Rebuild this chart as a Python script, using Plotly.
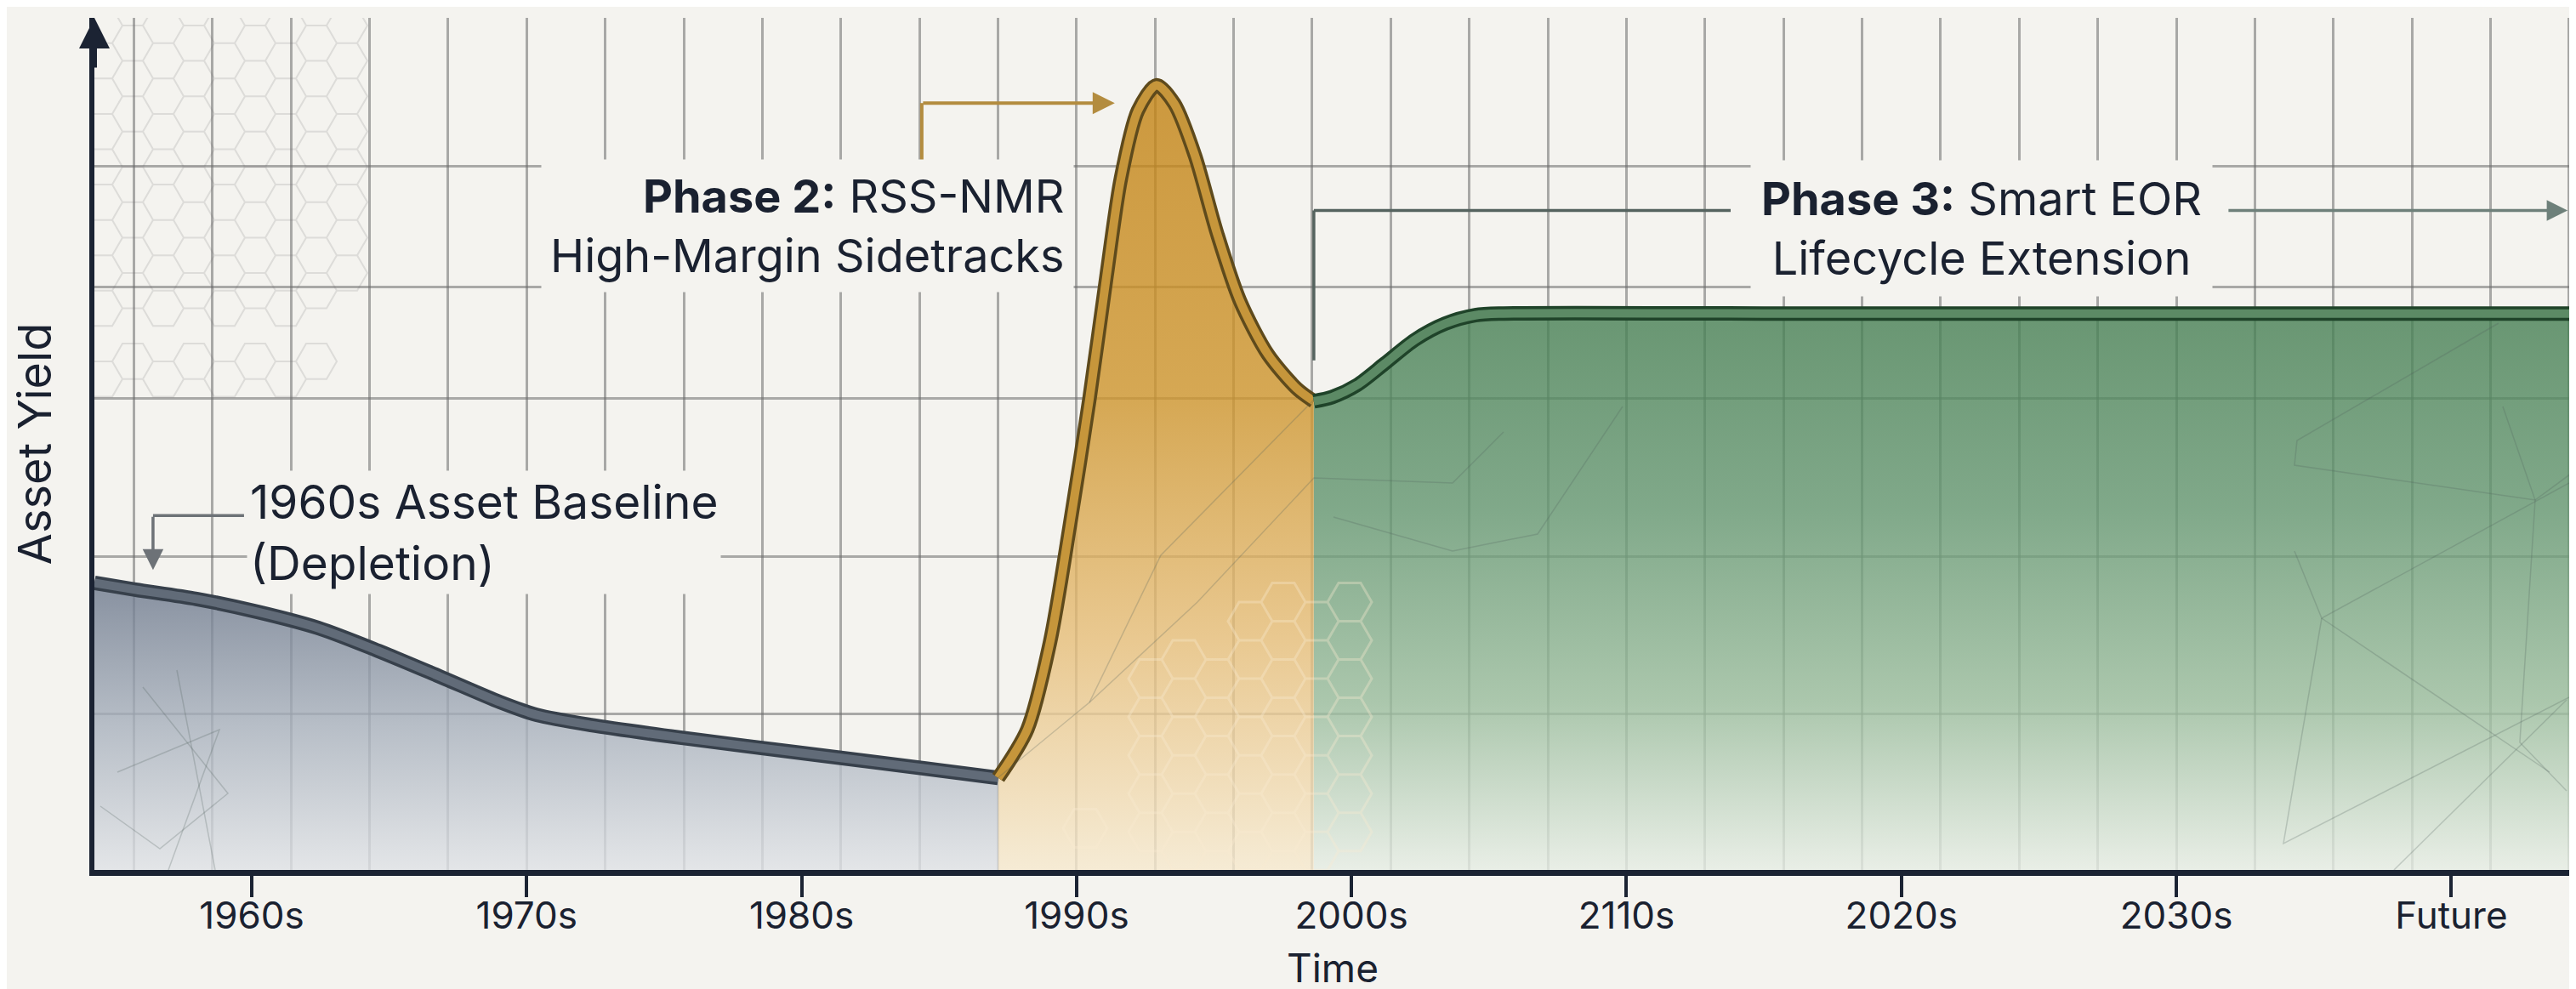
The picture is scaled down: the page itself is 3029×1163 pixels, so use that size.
import plotly.graph_objects as go
import math

# ---------------- DATA ----------------
categories = ["1960s", "1970s", "1980s", "1990s", "2000s", "2110s", "2020s", "2030s", "Future"]
cat_pos = list(range(len(categories)))

# Phase 1: 1960s asset baseline (depletion)
base_x = [-0.572, -0.424, -0.201, 0.019, 0.241, 0.461, 0.684, 0.903, 1.036, 1.234, 1.565, 2.007, 2.450, 2.715]
base_y = [33.7, 32.9, 31.8, 30.3, 28.4, 25.7, 22.7, 19.7, 18.2, 17.0, 15.5, 13.7, 11.9, 10.8]

# Phase 2: RSS-NMR high-margin sidetracks
phase2_x = [2.715, 2.821, 2.904, 2.976, 3.047, 3.109, 3.161, 3.223, 3.291, 3.356, 3.430, 3.511, 3.594, 3.696, 3.801, 3.863]
phase2_y = [10.8, 16.5, 26.8, 40.5, 55.3, 69.7, 81.1, 89.1, 92.1, 89.9, 83.9, 74.7, 66.8, 60.5, 56.5, 55.0]

# Phase 3: Smart EOR lifecycle extension
phase3_x = [3.863, 3.930, 4.020, 4.120, 4.230, 4.340, 4.450, 4.553, 5.5, 6.5, 7.5, 8.435]
phase3_y = [55.0, 55.5, 56.9, 59.4, 62.2, 64.1, 65.1, 65.3, 65.3, 65.3, 65.3, 65.3]

# horizontal grid levels (no labels in the original)
grid_y = [18.36, 36.73, 55.29, 68.46, 82.63, 99.95]

# ---------------- STYLE ----------------
BG = (244, 243, 239)
AX = "#1b2333"
TXT = "#1a2130"
FONT = "Inter, Liberation Sans, Arial, sans-serif"
X_RANGE = [-0.5722, 8.435]
Y_RANGE = [0, 100]
GRID = "rgba(105,105,105,0.55)"


def comp(hexcol, a=0.8):
    """colour that looks like hexcol once blended at alpha a over the background"""
    h = hexcol.lstrip("#")
    d = [int(h[i:i + 2], 16) for i in (0, 2, 4)]
    c = [max(0, min(255, round((d[k] - (1 - a) * BG[k]) / a))) for k in range(3)]
    return f"rgba({c[0]},{c[1]},{c[2]},{a})"


fig = go.Figure()

segments = [
    (base_x, base_y, [[0, comp("#e3e5e8")], [0.5, comp("#b7bec7")], [1, comp("#8791a0")]],
     "#37404b", "#616b78"),
    (phase2_x, phase2_y, [[0, comp("#f6ebd5")], [0.3, comp("#e9c88f")], [0.6, comp("#d6a854")], [1, comp("#cc993e")]],
     "#5e4a1c", "#c6963b"),
    (phase3_x, phase3_y, [[0, comp("#e9eee6")], [0.3, comp("#abc7ad")], [0.65, comp("#80a989")], [1, comp("#699672")]],
     "#1f4329", "#5c8a65"),
]

for xs, ys, cs, _, _ in segments:
    fig.add_trace(go.Scatter(
        x=xs, y=ys, mode="lines", line=dict(width=0, shape="spline", smoothing=0.8),
        fill="tozeroy",
        fillgradient=dict(type="vertical", colorscale=cs, start=0, stop=max(ys)),
        hoverinfo="skip", showlegend=False))

for xs, ys, _, outer, inner in segments:
    fig.add_trace(go.Scatter(x=xs, y=ys, mode="lines",
                             line=dict(color=outer, width=17, shape="spline", smoothing=0.8),
                             hoverinfo="skip", showlegend=False))
    fig.add_trace(go.Scatter(x=xs, y=ys, mode="lines",
                             line=dict(color=inner, width=10, shape="spline", smoothing=0.8),
                             hoverinfo="skip", showlegend=False))

# invisible trace so the labelled overlay axis exists
fig.add_trace(go.Scatter(x=cat_pos, y=[0] * len(cat_pos), xaxis="x2", mode="markers",
                         marker=dict(opacity=0), hoverinfo="skip", showlegend=False))

# ---------------- DECORATION (hexagon texture, faint survey lines) ----------------
PXU = 323.3           # px per category unit
PYU = 10.02           # px per y unit


def px2d(px, py):
    return (px - 288) / PXU, (1015 - py) / PYU


def hex_path(cx, cy, r):
    pts = []
    for k in range(6):
        a = math.radians(60 * k)
        pts.append(px2d(cx + r * math.cos(a), cy + r * math.sin(a)))
    return "M " + " L ".join(f"{x:.4f},{y:.3f}" for x, y in pts) + " Z "


shapes = []
path1 = ""
r1 = 24
for i in range(10):
    for j in range(12):
        cx = 112 + i * 1.5 * r1
        cy = 22 + j * math.sqrt(3) * r1 + (i % 2) * math.sqrt(3) * r1 / 2
        if cx > 430:
            continue
        if cy <= 330 or (cy <= 470 and (i + j) % 2 == 0 and cx < 400):
            path1 += hex_path(cx, cy, r1)
shapes.append(dict(type="path", path=path1, xref="x", yref="y", layer="below",
                   line=dict(color="rgba(150,150,150,0.25)", width=2)))

path2 = ""
r2 = 26
for i in range(9):
    for j in range(8):
        cx = 1345 + i * 1.5 * r2
        cy = 700 + j * math.sqrt(3) * r2 + (i % 2) * math.sqrt(3) * r2 / 2
        if cx > 1600 or cy > 1000:
            continue
        if cy < 760 and i < 3:
            continue
        path2 += hex_path(cx, cy, r2)
path2 += hex_path(1268, 966, r2)
shapes.append(dict(type="path", path=path2, xref="x", yref="y", layer="above",
                   line=dict(color="rgba(250,236,208,0.35)", width=3)))

survey = [
    [(2930, 372), (2693, 510), (2690, 539), (2973, 580), (3015, 549)],
    [(2935, 470), (2973, 580), (2955, 865), (3010, 922)],
    [(2690, 640), (2722, 719), (3013, 560)],
    [(2722, 719), (2677, 984), (3013, 812)],
    [(2722, 719), (2990, 900)],
    [(2807, 1015), (3010, 815)],
    [(1165, 907), (1273, 818), (1357, 645), (1537, 462)],
    [(1273, 818), (1400, 700), (1537, 554), (1700, 560), (1760, 500)],
    [(1560, 600), (1700, 640), (1800, 620), (1900, 470)],
    [(160, 800), (260, 925), (180, 990), (110, 940)],
    [(200, 780), (245, 1015)],
    [(130, 900), (250, 850), (190, 1015)],
]
for poly in survey:
    d = [px2d(x, y) for x, y in poly]
    path = "M " + " L ".join(f"{x:.4f},{y:.3f}" for x, y in d)
    shapes.append(dict(type="path", path=path, xref="x", yref="y", layer="above",
                       line=dict(color="rgba(80,95,90,0.25)", width=1.5)))

# ---------------- CONNECTORS ----------------
gold_c = "#b38c3f"
green_c = "#55635f"
gray_c = "#6d7277"
# phase 2 elbow
shapes.append(dict(type="line", xref="x", yref="y", x0=2.437, x1=2.437, y0=81.8, y1=90.0,
                   line=dict(color=gold_c, width=4)))
# phase 3 elbow
shapes.append(dict(type="line", xref="x", yref="y", x0=3.863, x1=3.863, y0=59.8, y1=77.4,
                   line=dict(color=green_c, width=3.5)))
shapes.append(dict(type="line", xref="x", yref="y", x0=3.863, x1=5.379, y0=77.4, y1=77.4,
                   line=dict(color=green_c, width=3.5)))
# 1960s elbow
shapes.append(dict(type="line", xref="x", yref="y", x0=-0.028, x1=-0.359, y0=41.6, y1=41.6,
                   line=dict(color=gray_c, width=3.5)))

annotations = [
    # connector arrow heads
    dict(x=3.139, y=90.0, ax=2.437, ay=90.0, axref="x", ayref="y", xref="x", yref="y", text="",
         showarrow=True, arrowhead=2, arrowsize=1.3, arrowwidth=4, arrowcolor=gold_c, standoff=0),
    dict(x=8.423, y=77.4, ax=7.185, ay=77.4, axref="x", ayref="y", xref="x", yref="y", text="",
         showarrow=True, arrowhead=2, arrowsize=1.4, arrowwidth=3.5, arrowcolor="#6e807a", standoff=0),
    dict(x=-0.359, y=35.2, ax=-0.359, ay=41.6, axref="x", ayref="y", xref="x", yref="y", text="",
         showarrow=True, arrowhead=2, arrowsize=1.4, arrowwidth=3.5, arrowcolor=gray_c, standoff=0),
    # axis arrow heads
    dict(x=X_RANGE[0], y=100, xref="x", yref="y", ax=0, ay=60, text="", showarrow=True,
         arrowhead=2, arrowsize=1.2, arrowwidth=6, arrowcolor=AX, standoff=0),
    dict(x=X_RANGE[1], y=-0.3, xref="x", yref="y", ax=-60, ay=0, text="", showarrow=True,
         arrowhead=2, arrowsize=1.1, arrowwidth=7, arrowcolor=AX, standoff=0),
    # labels
    dict(x=-0.02, y=39.6, xref="x", yref="y", xanchor="left", yanchor="middle", align="left",
         text="1960s Asset Baseline<br>(Depletion)", showarrow=False,
         font=dict(size=55, color=TXT, family=FONT), bgcolor="#f4f3ef", borderpad=3),
    dict(x=2.991, y=75.6, xref="x", yref="y", xanchor="right", yanchor="middle", align="right",
         text="<b>Phase 2:</b> RSS-NMR<br>High-Margin Sidetracks", showarrow=False,
         font=dict(size=54, color=TXT, family=FONT), bgcolor="#f4f3ef", borderpad=10),
    dict(x=6.29, y=75.3, xref="x", yref="y", xanchor="center", yanchor="middle", align="center",
         text="<b>Phase 3:</b> Smart EOR<br>Lifecycle Extension", showarrow=False,
         font=dict(size=54, color=TXT, family=FONT), bgcolor="#f4f3ef", borderpad=12),
]

fig.update_layout(
    width=3029, height=1163,
    margin=dict(l=103, r=14, t=13, b=148, autoexpand=False),
    paper_bgcolor="#f4f3ef", plot_bgcolor="#f4f3ef",
    font=dict(family=FONT, color=TXT),
    showlegend=False,
    shapes=shapes,
    annotations=annotations,
    xaxis=dict(range=X_RANGE, tickmode="linear", tick0=1, dtick=2 / 7,
               showgrid=True, gridcolor=GRID, gridwidth=2.5,
               showticklabels=False, ticks="", zeroline=False, showline=False),
    xaxis2=dict(range=X_RANGE, overlaying="x", anchor="y", side="bottom",
                tickmode="array", tickvals=cat_pos, ticktext=categories,
                ticks="outside", ticklen=25, tickwidth=4, tickcolor=AX,
                ticklabelstandoff=-16,
                tickfont=dict(size=44, color=TXT, family=FONT),
                showgrid=False, zeroline=False, showline=True, linewidth=7, linecolor=AX,
                layer="above traces",
                title=dict(text="Time", font=dict(size=46, color=TXT, family=FONT), standoff=24)),
    yaxis=dict(range=Y_RANGE, tickmode="array", tickvals=grid_y, showticklabels=False, ticks="",
               showgrid=True, gridcolor=GRID, gridwidth=2.5, zeroline=False,
               showline=True, linewidth=6, linecolor=AX, layer="above traces",
               title=dict(text="Asset Yield", font=dict(size=54, color=TXT, family=FONT), standoff=30)),
)

fig.write_html("out.html")
